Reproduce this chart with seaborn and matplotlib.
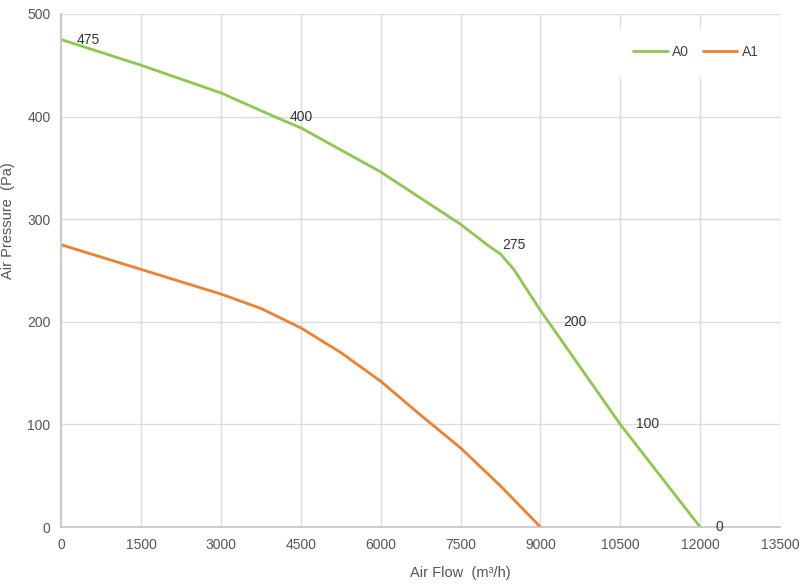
import numpy as np
import pandas as pd
import matplotlib
matplotlib.use('Agg')
import matplotlib.pyplot as plt
import seaborn as sns

# curve values
a0_flow = [0, 1500, 3000, 4000, 4500, 6000, 7500, 8000, 8250, 8500, 9000, 9150, 10500, 12000]
a0_pressure = [475, 450, 423, 400, 389, 346, 295, 275, 266, 251, 211, 200, 100, 0]
a1_flow = [0, 1500, 3000, 3750, 4500, 5250, 6000, 6750, 7500, 8250, 9000]
a1_pressure = [275, 251, 227, 213, 194, 170, 142, 109, 77, 40, 0]

# points that carry a value label on A0
label_flow = [0, 4000, 8000, 9150, 10500, 12000]
label_pressure = [475, 400, 275, 200, 100, 0]

x_ticks = [0, 1500, 3000, 4500, 6000, 7500, 9000, 10500, 12000, 13500]
y_ticks = [0, 100, 200, 300, 400, 500]

df = pd.concat([
    pd.DataFrame({'flow': a0_flow, 'pressure': a0_pressure, 'fan': 'A0'}),
    pd.DataFrame({'flow': a1_flow, 'pressure': a1_pressure, 'fan': 'A1'}),
], ignore_index=True)

sns.set_style('white')
plt.rcParams['font.family'] = ['Liberation Sans', 'DejaVu Sans']

fig = plt.figure(figsize=(8.07, 5.88), dpi=100)
ax = fig.add_axes([0.0762, 0.1037, 0.8903, 0.8725])

palette = {'A0': '#8cc94a', 'A1': '#f0802d'}
sns.lineplot(data=df, x='flow', y='pressure', hue='fan', palette=palette,
             linewidth=2.0, ax=ax, sort=False)
for ln in ax.get_lines():
    ln.set_solid_joinstyle('round')

ax.set_xlim(0, 13500)
ax.set_ylim(0, 500)
ax.set_xticks(x_ticks)
ax.set_yticks(y_ticks)
ax.grid(True, color='#dcdcdc', linewidth=1.0)
ax.set_axisbelow(True)
for s in ['top', 'right']:
    ax.spines[s].set_visible(False)
for s in ['left', 'bottom']:
    ax.spines[s].set_color('#c4c4c4')
    ax.spines[s].set_linewidth(1.2)
ax.tick_params(axis='both', length=0, labelsize=10, colors='#555555', pad=8)

ax.set_xlabel('Air Flow  (m³/h)', fontsize=10.5, color='#555555')
ax.set_ylabel('Air Pressure  (Pa)', fontsize=10.5, color='#555555')
ax.xaxis.set_label_coords(0.555, -0.075)
ax.yaxis.set_label_coords(-0.065, 0.598)

# data labels on A0
for x, y in zip(label_flow, label_pressure):
    ax.annotate(str(y), (x, y), xytext=(11, 0), textcoords='offset points',
                ha='left', va='center', fontsize=10, color='#333333')

leg = ax.legend(loc='upper right', bbox_to_anchor=(1.003, 0.985), ncol=2,
                frameon=True, fontsize=10, handlelength=2.5, columnspacing=1.0,
                handletextpad=0.3, borderpad=1.2)
leg.get_frame().set_facecolor('white')
leg.get_frame().set_edgecolor('white')
leg.get_frame().set_alpha(1)
for t in leg.get_texts():
    t.set_color('#444444')

fig.savefig('out.png', dpi=100)
